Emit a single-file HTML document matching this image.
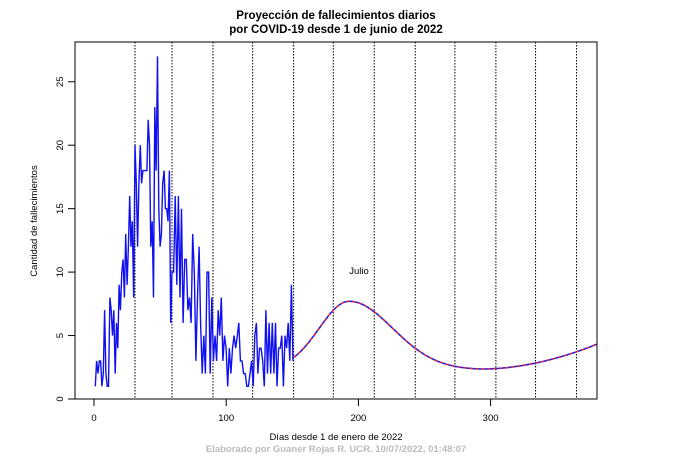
<!DOCTYPE html>
<html><head><meta charset="utf-8"><style>
body{margin:0;background:#fff;}
svg{display:block;font-family:"Liberation Sans",Arial,sans-serif;}
</style></head><body>
<svg id="s" width="699" height="466" viewBox="0 0 699 466">
<text x="336" y="19" font-size="11.5" font-weight="bold" text-anchor="middle">Proyección de fallecimientos diarios</text>
<text x="336" y="33" font-size="11.5" font-weight="bold" text-anchor="middle">por COVID-19 desde 1 de junio de 2022</text>
<g id="grid" stroke="#000" stroke-width="1" stroke-dasharray="1.5,1.5"></g>
<rect x="75" y="42" width="522" height="357" fill="none" stroke="#000" stroke-width="1"/>
<g id="ax" stroke="#000" stroke-width="1"></g>
<g id="lab" font-size="9.5"></g>
<path id="blue" fill="none" stroke="#1010f0" stroke-width="1.4"/>
<path id="c1" fill="none" stroke="#2020e0" stroke-width="1.6"/>
<path id="c2" fill="none" stroke="#ff2020" stroke-width="1.2" stroke-dasharray="3,3"/>
<text x="359" y="274" font-size="9.5" text-anchor="middle">Julio</text>
<text x="37" y="221" font-size="9.5" text-anchor="middle" transform="rotate(-90 37 221)">Cantidad de fallecimientos</text>
<text x="336" y="440" font-size="9.5" text-anchor="middle">Días desde 1 de enero de 2022</text>
<text x="336" y="452" font-size="9.5" font-weight="bold" fill="#bbb" text-anchor="middle">Elaborado por Guaner Rojas R. UCR. 10/07/2022, 01:48:07</text>
</svg>
<script>
var X=d=>94+1.322*d, Y=v=>399-12.69*v;
var g=document.getElementById('grid'),a=document.getElementById('ax'),l=document.getElementById('lab'),NS="http://www.w3.org/2000/svg";
function el(p,t,at,txt){var e=document.createElementNS(NS,t);for(var k in at)e.setAttribute(k,at[k]);if(txt)e.textContent=txt;p.appendChild(e);}
[31,59,90,120,151,181,212,243,273,304,334,365].forEach(d=>el(g,'line',{x1:X(d),x2:X(d),y1:42,y2:399}));
el(a,'line',{x1:X(0),x2:X(300),y1:399,y2:399});
[0,100,200,300].forEach(d=>{el(a,'line',{x1:X(d),x2:X(d),y1:399,y2:406});el(l,'text',{x:X(d),y:421,'text-anchor':'middle'},String(d));});
el(a,'line',{x1:75,x2:75,y1:Y(0),y2:Y(25)});
[0,5,10,15,20,25].forEach(v=>{el(a,'line',{x1:68,x2:75,y1:Y(v),y2:Y(v)});el(l,'text',{x:63,y:Y(v),'text-anchor':'middle',transform:'rotate(-90 63 '+Y(v)+')'},String(v));});
var dat=[1,3,2,3,3,1,2,7,2,1,1,8,7,5,7,2,6,4,9,7,10,11,8,13,9,12,16,12,14,8,20,17,12,17,20,17,18,18,18,18,22,20,12,14,8,23,18,27,15,12,13,17,18,15,15,14,18,6,10,10,16,9,16,8,15,6,11,11,7,8,6,13,10,3,8,12,6,2,5,2,10,10,2,8,3,5,3,7,5,8,3,5,4,1,4,2,4,5,4,5,6,3,3,2,2,1,1,2,3,1,5,6,2,4,4,3,1,7,2,6,2,6,2,6,1,4,4,5,1,5,4,6,3,9,3];
var n=dat.length,p='';
dat.forEach((v,i)=>{var d=i<58?1+i:59+(i-58)*(150.5-59)/(n-1-58);p+=(i?'L':'M')+X(d).toFixed(1)+' '+Y(v).toFixed(1);});
document.getElementById('blue').setAttribute('d',p);
function f(d){var s=d<193?32:46.5,v=2.3+5.4*Math.exp(-Math.pow((d-193)/s,2));if(d>285)v+=0.000222*Math.pow(d-285,2);return v;}
var q='';for(var d=151;d<=380;d+=1){q+=(d>151?'L':'M')+X(d).toFixed(1)+' '+Y(f(d)).toFixed(1);}
document.getElementById('c1').setAttribute('d',q);document.getElementById('c2').setAttribute('d',q);
</script>
</body></html>
